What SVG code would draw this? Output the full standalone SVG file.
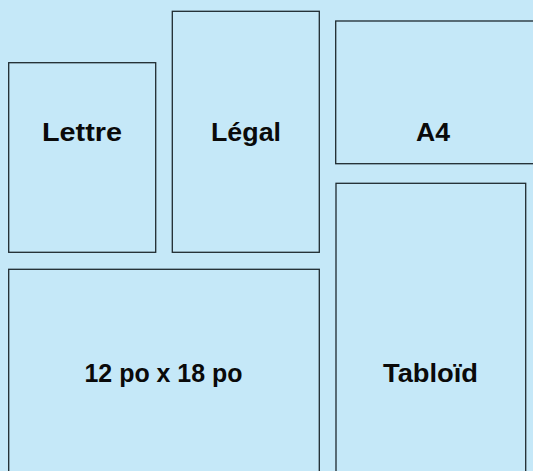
<svg xmlns="http://www.w3.org/2000/svg" width="533" height="471" viewBox="0 0 533 471">
<style>
.box{fill:#c5e8f8;stroke:#1e2a30;stroke-width:1.3}
.lbl{font-family:"Liberation Sans",Arial,sans-serif;font-weight:bold;font-size:25px;fill:#0a0a0a;text-anchor:middle}
</style>
<rect width="533" height="471" fill="#c5e8f8"/>
<g id="lettre"><rect class="box" x="8.7" y="62.7" width="147" height="189.6"/><text class="lbl" x="82" y="141" textLength="80" lengthAdjust="spacingAndGlyphs">Lettre</text></g>
<g id="legal"><rect class="box" x="172.3" y="11.3" width="147" height="241"/><text class="lbl" x="246" y="141" textLength="70" lengthAdjust="spacingAndGlyphs">Légal</text></g>
<g id="a4"><rect class="box" x="335.7" y="21" width="210" height="142.7"/><text class="lbl" x="433" y="141" textLength="34" lengthAdjust="spacingAndGlyphs">A4</text></g>
<g id="tabloid"><rect class="box" x="336" y="183.3" width="189.7" height="300"/><text class="lbl" x="430.5" y="382" textLength="95" lengthAdjust="spacingAndGlyphs">Tabloïd</text></g>
<g id="p12x18"><rect class="box" x="8.7" y="269.3" width="310.6" height="220"/><text class="lbl" x="163.5" y="382" textLength="158" lengthAdjust="spacingAndGlyphs">12 po x 18 po</text></g>
<g id="connectors"></g>
</svg>
